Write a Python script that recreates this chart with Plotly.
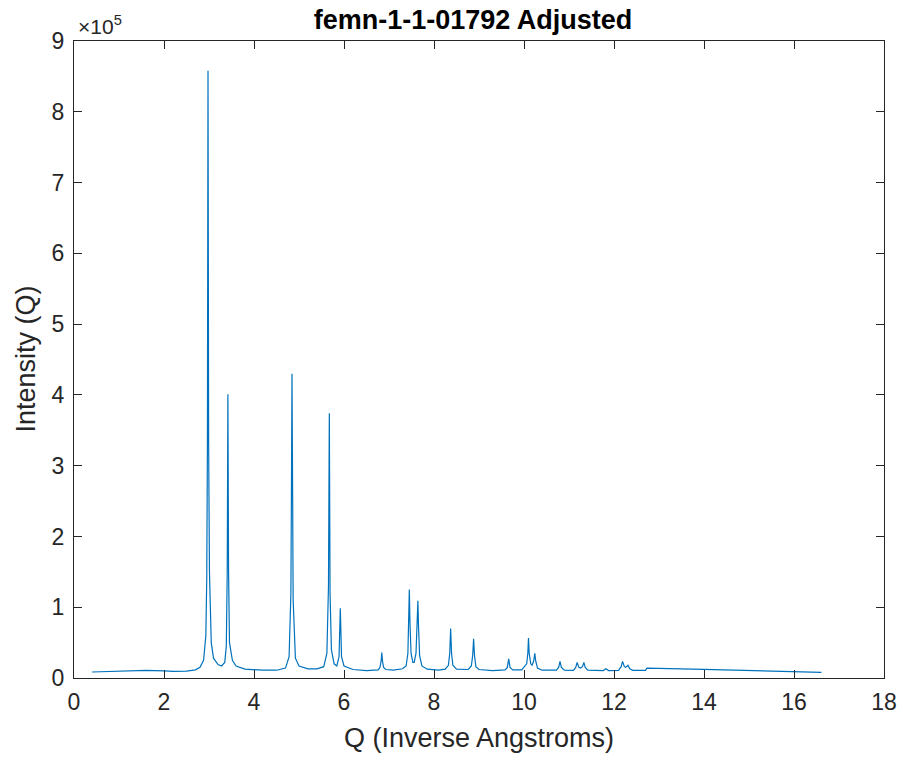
import plotly.graph_objects as go

# Q (inverse angstroms) and intensity
q = [0.40, 0.80, 1.20, 1.60, 2.00, 2.20, 2.50, 2.70, 2.80, 2.88, 2.93, 2.95, 2.965, 2.978,
     2.992, 3.01, 3.05, 3.10, 3.20, 3.28, 3.35, 3.385, 3.405, 3.42, 3.435, 3.455, 3.52,
     3.60, 3.80, 4.20, 4.50, 4.70, 4.78, 4.82, 4.835, 4.844, 4.855, 4.87, 4.92, 5.00,
     5.20, 5.40, 5.55, 5.62, 5.655, 5.674, 5.69, 5.72, 5.78, 5.84, 5.89, 5.918, 5.945,
     6.00, 6.20, 6.50, 6.76, 6.80, 6.825, 6.84, 6.855, 6.88, 6.93, 7.10, 7.30, 7.38,
     7.42, 7.44, 7.452, 7.465, 7.49, 7.53, 7.56, 7.60, 7.63, 7.642, 7.655, 7.68, 7.73,
     7.85, 8.10, 8.25, 8.32, 8.35, 8.37, 8.39, 8.42, 8.50, 8.76, 8.83, 8.86, 8.88, 8.90,
     8.93, 9.00, 9.30, 9.58, 9.63, 9.66, 9.69, 9.75, 9.95, 10.06, 10.085, 10.10, 10.115,
     10.15, 10.18, 10.215, 10.24, 10.26, 10.30, 10.40, 10.60, 10.72, 10.77, 10.80, 10.83,
     10.90, 11.10, 11.15, 11.18, 11.22, 11.255, 11.30, 11.33, 11.36, 11.42, 11.65, 11.76,
     11.82, 11.88, 12.10, 12.16, 12.19, 12.23, 12.26, 12.31, 12.35, 12.42, 12.70, 12.73,
     14.00, 16.61]
intensity = [8500, 9000, 10000, 10800, 10000, 9300, 9600, 11500, 15000, 25000, 60000,
             140000, 330000, 858000, 330000, 150000, 50000, 28000, 19000, 17000, 22000,
             45000, 150000, 401000, 150000, 50000, 25000, 17000, 12500, 11000, 11000,
             14000, 30000, 120000, 300000, 430000, 300000, 110000, 28000, 17000, 13000,
             13000, 16000, 35000, 130000, 374000, 120000, 40000, 20000, 17000, 30000,
             98500, 30000, 17000, 12000, 10500, 11500, 15000, 24000, 36000, 24000, 15000,
             12000, 11000, 13000, 17000, 35000, 80000, 125000, 80000, 35000, 22000, 22000,
             35000, 75000, 109000, 75000, 32000, 17000, 12500, 11000, 12500, 18000, 35000,
             70000, 35000, 18000, 12500, 12000, 17000, 32000, 55500, 32000, 16000, 12000,
             10500, 11500, 15000, 27000, 15000, 11500, 11500, 20000, 35000, 56500, 35000,
             20000, 18000, 24000, 35000, 24000, 14000, 11000, 10500, 11000, 15000, 23500,
             15000, 11000, 10800, 15000, 22000, 15000, 14000, 16000, 22000, 15000, 11000,
             10300, 10500, 13000, 10500, 10800, 16000, 23500, 16000, 15000, 18000, 13000,
             10800, 10800, 14000, 12300, 8000]

x_ticks = [0, 2, 4, 6, 8, 10, 12, 14, 16, 18]
y_ticks = [0, 100000, 200000, 300000, 400000, 500000, 600000, 700000, 800000, 900000]
y_tick_labels = ["0", "1", "2", "3", "4", "5", "6", "7", "8", "9"]

FONT = "Liberation Sans, Arial, Helvetica, sans-serif"
AX = "#262626"

fig = go.Figure(go.Scatter(x=q, y=intensity, mode="lines",
                           line=dict(color="#0072BD", width=1.2),
                           hoverinfo="x+y"))

axis_common = dict(showline=True, linecolor=AX, linewidth=1.3, mirror="allticks",
                   ticks="inside", ticklen=8, tickwidth=1.3, tickcolor=AX,
                   showgrid=False, zeroline=False, automargin=False,
                   tickfont=dict(family=FONT, size=23, color=AX))

fig.update_layout(
    width=903, height=761,
    paper_bgcolor="white", plot_bgcolor="white",
    margin=dict(l=74, r=19, t=41, b=83),
    showlegend=False,
    title=dict(text="<b>femn-1-1-01792 Adjusted</b>", x=473 / 903, xanchor="center",
               y=1 - 20 / 761, yanchor="middle",
               font=dict(family=FONT, size=27, color="black")),
    xaxis=dict(range=[0, 18], tickvals=x_ticks, ticklabelstandoff=3, **axis_common),
    yaxis=dict(range=[0, 900000], tickvals=y_ticks, ticktext=y_tick_labels,
               ticklabelstandoff=4, **axis_common),
    annotations=[
        dict(text="×10<sup>5</sup>", xref="paper", yref="paper",
             x=0.0, y=1.0, xanchor="left", yanchor="bottom", yshift=1, xshift=2,
             showarrow=False, font=dict(family=FONT, size=21, color=AX)),
        dict(text="Q (Inverse Angstroms)", xref="paper", yref="paper",
             x=0.5, y=0, xanchor="center", yanchor="middle", yshift=-60,
             showarrow=False, font=dict(family=FONT, size=27, color=AX)),
        dict(text="Intensity (Q)", xref="paper", yref="paper", textangle=-90,
             x=0, y=0.5, xanchor="center", yanchor="middle", xshift=-49,
             showarrow=False, font=dict(family=FONT, size=27, color=AX)),
    ],
)

fig.write_html("out.html", config={"displayModeBar": False},
               post_script="document.body.style.margin='0';")
